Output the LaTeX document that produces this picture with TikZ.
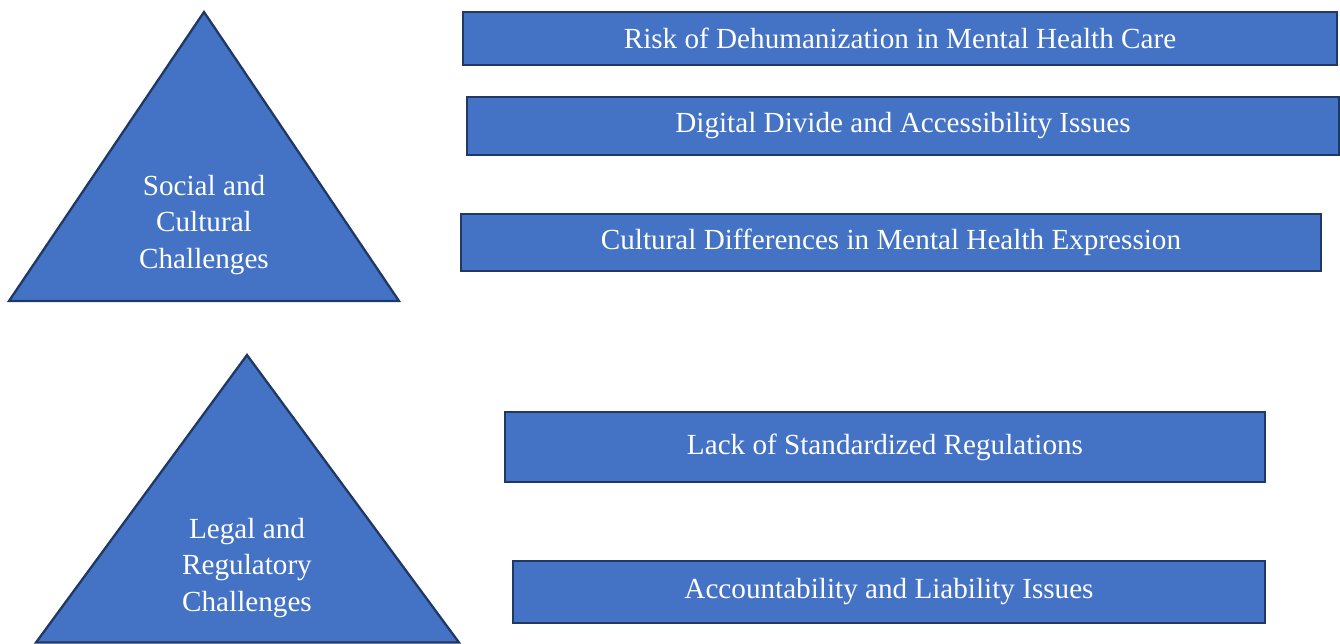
\documentclass[tikz,border=0pt]{standalone}
\usepackage{fontspec}
\setmainfont{Liberation Serif}
\usepackage{tikz}
\definecolor{fillblue}{HTML}{4472C4}
\definecolor{edgenavy}{HTML}{1F3864}

\tikzset{
  box/.style={draw=edgenavy, fill=fillblue, line width=1.3pt, text=white, inner sep=0pt,
    font=\fontsize{16.6}{20.7}\selectfont},
  tri/.style={draw=edgenavy, fill=fillblue, line width=1.3pt, line join=miter},
  trilabel/.style={text=white, align=center, font=\fontsize{16.6}{20.7}\selectfont}
}

\begin{document}
\begin{tikzpicture}[x=0.02cm, y=-0.02cm]
        \useasboundingbox (0,0) rectangle (1340,644);
        % triangles
        \draw [tri] (204,12) -- (399,301) -- (9,301) -- cycle;
        \node [trilabel] (social) at (204,225) {Social and\\Cultural\\Challenges};
        \draw [tri] (247,355) -- (459,642.5) -- (36,642.5) -- cycle;
        \node [trilabel] (legal) at (247,568) {Legal and\\Regulatory\\Challenges};
        % social boxes
        \node [box, minimum width=17.48cm, minimum height=1.06cm] (risk) at (900,38.5) {Risk of Dehumanization in Mental Health Care};
        \node [box, minimum width=17.44cm, minimum height=1.16cm] (divide) at (903,126) {Digital Divide and Accessibility Issues};
        \node [box, minimum width=17.2cm, minimum height=1.14cm] (culture) at (891,242.5) {Cultural Differences in Mental Health Expression};
        % legal boxes
        \node [box, minimum width=15.2cm, minimum height=1.4cm] (regul) at (885,447) {Lack of Standardized Regulations};
        \node [box, minimum width=15.04cm, minimum height=1.24cm] (liab) at (889,592) {Accountability and Liability Issues};
\end{tikzpicture}
\end{document}
